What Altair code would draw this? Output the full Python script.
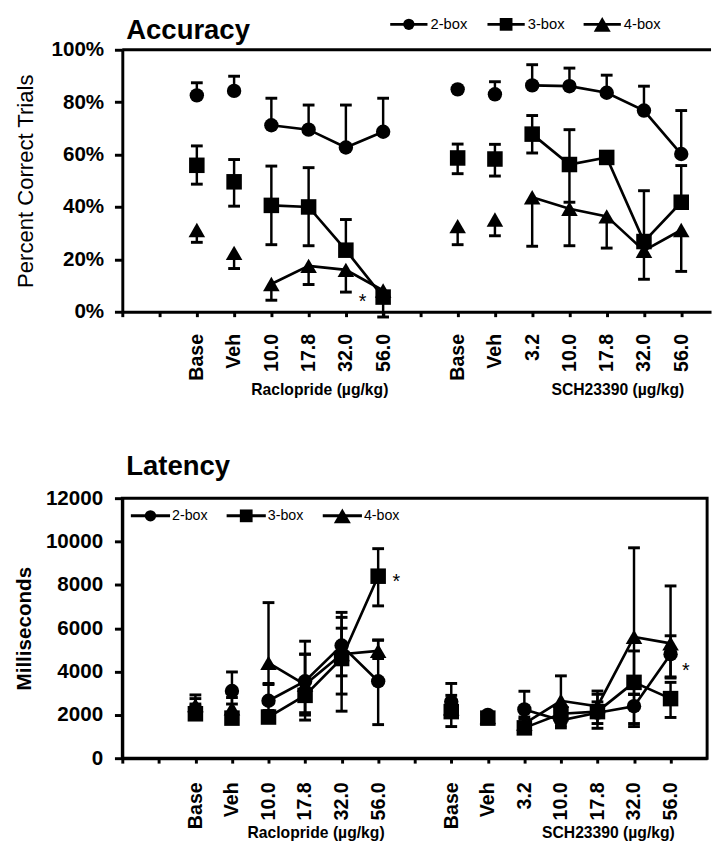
import json
import altair as alt
import pandas as pd

FONT = "Liberation Sans"

SERIES = ["2-box", "3-box", "4-box"]
RAC_LABELS = ["Base", "Veh", "10.0", "17.8", "32.0", "56.0"]
SCH_LABELS = ["Base", "Veh", "3.2", "10.0", "17.8", "32.0", "56.0"]
RAC_SLOTS = [2, 3, 4, 5, 6, 7]
SCH_SLOTS = [9, 10, 11, 12, 13, 14, 15]
GROUP_TITLES = ["Raclopride (µg/kg)", "SCH23390 (µg/kg)"]
GROUP_TITLE_SLOTS = [5.3, 13.3]

# ---- Accuracy (% correct trials); order: Raclopride Base..56.0, SCH Base..56.0
ACC_2_MEAN = [82.6, 84.3, 71.2, 69.5, 62.7, 68.7, 84.9, 83.0, 86.4, 86.1, 83.6, 76.8, 60.2]
ACC_2_HI = [87.4, 89.9, 81.5, 78.9, 78.9, 81.5, None, 87.8, 94.3, 93.0, 90.3, 86.1, 76.8]
ACC_2_LO = [None] * 13
ACC_3_MEAN = [55.9, 49.6, 40.6, 40.0, 23.5, 5.6, 58.7, 58.3, 67.8, 56.2, 58.9, 26.8, 41.8]
ACC_3_HI = [63.3, 58.1, 55.6, 55.0, 35.2, None, 64.0, 63.9, 74.9, 69.5, 61.0, 46.2, 55.8]
ACC_3_LO = [48.7, 40.3, 25.6, 25.2, None, -2.0, 52.7, 51.8, 60.6, 41.8, 57.0, None, None]
ACC_4_MEAN = [31.2, 22.5, 10.6, 17.5, 16.0, 8.1, 32.7, 35.2, 43.7, 39.3, 36.4, 23.3, 31.2]
ACC_4_HI = [None] * 13
ACC_4_LO = [26.5, 16.5, 4.4, 10.4, 7.5, None, 25.6, 29.0, 25.0, 25.2, 24.3, 12.4, 15.4]
ACC_STARS = [(6.45, 5.6)]

# ---- Latency (ms)
LAT_2_MEAN = [2250, 3100, 2650, 3550, 5200, 3550, 2600, 2000, 2250, 1750, 2100, 2400, 4800]
LAT_2_HI = [2750, 3980, 3450, 4800, 6730, 5450, 3450, None, 3090, 2300, 2600, 2960, 5650]
LAT_2_LO = [1950, 2500, 2000, 1990, 3800, 1550, 2200, None, 1800, 1400, 1600, 1600, 3750]
LAT_3_MEAN = [2050, 1850, 1900, 2900, 4600, 8400, 2150, 1850, 1400, 2050, 2150, 3500, 2750]
LAT_3_HI = [2500, 2100, 2200, 5400, 6000, 9670, 2600, 2050, 1600, 2400, 2950, 4950, 3500]
LAT_3_LO = [1800, 1650, 1700, 1760, 2960, 7030, 1460, 1700, 1250, 1700, 1380, 1460, 1880]
LAT_4_MEAN = [2450, 2300, 4400, 3400, 4800, 4950, 2300, 1900, 1600, 2650, 2400, 5600, 5300]
LAT_4_HI = [2920, 2800, 7180, 4800, 6500, 5450, 2900, 2100, 1900, 3800, 3100, 9710, 7950]
LAT_4_LO = [2000, 1900, 3400, 2100, 2170, 4600, 2000, 1750, 1400, 1500, 1900, 2940, 3700]
LAT_STARS = [(7.5, 8370), (15.42, 4260)]

# legend keys (a line with the marker in its middle), placed in each panel's own scale units
LEG_SHAPES = ["circle", "square", "triangle-up"]
LEG_SIZES = [133, 169, 300]
TOP_LEG_X = [7.69, 10.30, 12.88]
TOP_LEG_Y = 109.7
BOT_LEG_X = [0.77, 3.39, 6.02]
BOT_LEG_Y = 11185


def frames(means, his, los):
    labels = RAC_LABELS + SCH_LABELS
    slots = RAC_SLOTS + SCH_SLOTS
    drugs = ["rac"] * len(RAC_SLOTS) + ["sch"] * len(SCH_SLOTS)
    rows, err = [], []
    for s, m, h, lo in zip(SERIES, means, his, los):
        for i in range(len(slots)):
            rows.append(dict(series=s, slot=slots[i], label=labels[i],
                             dose=labels[i] not in ("Base", "Veh"),
                             grp=f"{s}-{drugs[i]}", value=m[i]))
            for e in (h[i], lo[i]):
                if e is not None:
                    err.append(dict(series=s, slot=slots[i], value=m[i], end=e))
    return pd.DataFrame(rows), pd.DataFrame(err)


def panel(means, his, los, *, width, height, xmax, ymax, ystep, ylabel_expr,
          ytitle, ytitle_weight, ytitle_size, ytitle_pad, ylabel_pad, xlabel_pad,
          title, title_dy, leg_x, leg_y, leg_half, leg_lab, leg_size, stars, group_dy, top_rule):
    pts, err = frames(means, his, los)
    nt = 15
    tick_labels = [""] * (nt + 1)
    for s, l in zip(RAC_SLOTS + SCH_SLOTS, RAC_LABELS + SCH_LABELS):
        tick_labels[s] = l
    xscale = alt.Scale(domain=[0, xmax], nice=False, zero=False)
    yscale = alt.Scale(domain=[0, ymax], nice=False)
    xaxis = alt.Axis(values=list(range(nt + 1)), labelExpr=json.dumps(tick_labels) + "[datum.value]",
                     labelAngle=270, labelFont=FONT, labelFontSize=20, labelFontWeight="bold",
                     labelColor="black", labelPadding=xlabel_pad, tickSize=5, tickWidth=3,
                     tickColor="black", domainColor="black", domainWidth=3, grid=False,
                     title=None, labelOverlap=False, labelFlush=False)
    yaxis = alt.Axis(values=list(range(0, ymax + 1, ystep)), labelExpr=ylabel_expr,
                     labelFont=FONT, labelFontSize=21, labelFontWeight="bold", labelColor="black",
                     labelPadding=ylabel_pad, tickSize=8, tickWidth=3, tickColor="black",
                     domainColor="black", domainWidth=3, grid=False, title=ytitle,
                     titleFont=FONT, titleFontSize=ytitle_size, titleFontWeight=ytitle_weight,
                     titleColor="black", titlePadding=ytitle_pad)

    def X(f):
        return alt.X(f, type="quantitative", scale=xscale, axis=xaxis)

    def Y(f):
        return alt.Y(f, type="quantitative", scale=yscale, axis=yaxis)

    layers = []
    if top_rule:
        layers.append(
            alt.Chart(pd.DataFrame({"a": [0.0], "b": [xmax], "c": [ymax]}))
            .mark_rule(color="black", strokeWidth=3)
            .encode(x=X("a"), x2="b", y=Y("c"))
        )
    layers.append(
        alt.Chart(err).mark_rule(color="black", strokeWidth=2.5)
        .encode(x=X("slot"), y=Y("value"), y2="end")
    )
    layers.append(
        alt.Chart(err).mark_tick(color="black", orient="horizontal", size=12, thickness=3, opacity=1)
        .encode(x=X("slot"), y=Y("end"))
    )
    layers.append(
        alt.Chart(pts).transform_filter("datum.dose").mark_line(color="black", strokeWidth=2.7)
        .encode(x=X("slot"), y=Y("value"), detail="grp:N", order="slot:Q")
    )
    layers.append(
        alt.Chart(pts).mark_point(filled=True, color="black", opacity=1)
        .encode(
            x=X("slot"), y=Y("value"),
            shape=alt.Shape("series:N", scale=alt.Scale(domain=SERIES, range=["circle", "square", "triangle-up"]), legend=None),
            size=alt.Size("series:N", scale=alt.Scale(domain=SERIES, range=[215, 285, 340]), legend=None),
        )
    )
    # legend
    leg = pd.DataFrame({"series": SERIES, "cx": leg_x, "y": [leg_y] * 3})
    leg["x0"] = leg["cx"] - leg_half
    leg["x1"] = leg["cx"] + leg_half
    leg["lx"] = leg["cx"] + leg_lab
    layers.append(
        alt.Chart(leg).mark_rule(color="black", strokeWidth=3)
        .encode(x=X("x0"), x2="x1", y=Y("y"))
    )
    for s, shp, sz in zip(SERIES, LEG_SHAPES, LEG_SIZES):
        layers.append(
            alt.Chart(leg[leg["series"] == s])
            .mark_point(filled=True, color="black", opacity=1, shape=shp, size=sz)
            .encode(x=X("cx"), y=Y("y"))
        )
    layers.append(
        alt.Chart(leg).mark_text(font=FONT, fontSize=leg_size, color="black", align="left", baseline="middle")
        .encode(x=X("lx"), y=Y("y"), text="series:N")
    )
    layers.append(
        alt.Chart(pd.DataFrame({"slot": GROUP_TITLE_SLOTS, "t": GROUP_TITLES}))
        .mark_text(font=FONT, fontSize=16, fontWeight="bold", color="black", align="center", baseline="middle")
        .encode(x=X("slot"), y=alt.value(height + group_dy), text="t:N")
    )
    layers.append(
        alt.Chart(pd.DataFrame({"slot": [s[0] for s in stars], "value": [s[1] for s in stars], "t": ["*"] * len(stars)}))
        .mark_text(font=FONT, fontSize=20, color="black", baseline="middle", dy=5)
        .encode(x=X("slot"), y=Y("value"), text="t:N")
    )
    layers.append(
        alt.Chart(pd.DataFrame({"t": [title]}))
        .mark_text(font=FONT, fontSize=28, fontWeight="bold", color="black", align="left", baseline="top")
        .encode(x=alt.value(4), y=alt.value(title_dy), text="t:N")
    )
    return alt.layer(*layers).properties(width=width, height=height)


top = panel(
    [ACC_2_MEAN, ACC_3_MEAN, ACC_4_MEAN], [ACC_2_HI, ACC_3_HI, ACC_4_HI], [ACC_2_LO, ACC_3_LO, ACC_4_LO],
    width=600, height=267, xmax=15.8, ymax=100, ystep=20, ylabel_expr="datum.value + '%'",
    ytitle="Percent Correct Trials", ytitle_weight="normal", ytitle_size=22.5, ytitle_pad=13.5,
    ylabel_pad=11, xlabel_pad=17, title="Accuracy", title_dy=-33,
    leg_x=TOP_LEG_X, leg_y=TOP_LEG_Y, leg_half=0.5, leg_lab=0.58, leg_size=15,
    stars=ACC_STARS, group_dy=80, top_rule=True,
)

bottom = panel(
    [LAT_2_MEAN, LAT_3_MEAN, LAT_4_MEAN], [LAT_2_HI, LAT_3_HI, LAT_4_HI], [LAT_2_LO, LAT_3_LO, LAT_4_LO],
    width=596, height=265, xmax=16, ymax=12000, ystep=2000, ylabel_expr="format(datum.value, 'd')",
    ytitle="Milliseconds", ytitle_weight="bold", ytitle_size=21, ytitle_pad=11.5,
    ylabel_pad=12, xlabel_pad=19, title="Latency", title_dy=-46,
    leg_x=BOT_LEG_X, leg_y=BOT_LEG_Y, leg_half=0.536, leg_lab=0.59, leg_size=14.5,
    stars=LAT_STARS, group_dy=76, top_rule=False,
).properties(view=alt.ViewBackground(stroke="black", strokeWidth=3))

chart = (
    alt.vconcat(top, bottom, spacing=53)
    .resolve_scale(x="independent", y="independent")
    .properties(padding={"left": 3.5, "top": 0.5, "right": 0, "bottom": 0}, background="white")
    .configure_view(stroke="transparent")
)

chart.save("out.html", embed_options={"renderer": "svg", "actions": False})
